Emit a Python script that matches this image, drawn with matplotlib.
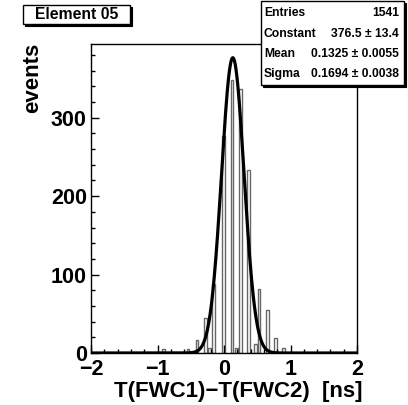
import numpy as np
import matplotlib
matplotlib.use("Agg")
import matplotlib.pyplot as plt
from matplotlib.patches import Rectangle
from matplotlib.ticker import MultipleLocator

plt.rcParams['font.family'] = ['Liberation Sans', 'DejaVu Sans']
plt.rcParams['font.weight'] = 'bold'

# histogram contents (bin centre in ns, events)
t_diff = [-0.91, -0.54, -0.405, -0.28, -0.22, -0.155, -0.005, 0.12,
          0.185, 0.245, 0.37, 0.475, 0.525, 0.65, 0.77, 0.89]
counts = [5, 5, 17, 45, 6, 88, 277, 348, 6, 336, 233, 12, 82, 55, 19, 6]

# gaussian fit
gaus_const = 376.5
gaus_mean = 0.1325
gaus_sigma = 0.1694

stat_names = ["Entries", "Constant", "Mean", "Sigma"]
stat_values = ["1541", "376.5 \u00b1 13.4", "0.1325 \u00b1 0.0055", "0.1694 \u00b1 0.0038"]

W, H = 408, 405


def fx(x):
    return x / W


def fy(y):
    return 1 - y / H


fig = plt.figure(figsize=(W / 100, H / 100), dpi=100)
ax = fig.add_axes([fx(91), fy(353), fx(357) - fx(91), fy(44) - fy(353)])

ax.bar(t_diff, counts, width=0.042, facecolor='white', edgecolor='#666666', linewidth=1.0)
xs = np.linspace(-2, 2, 800)
ax.plot(xs, gaus_const * np.exp(-0.5 * ((xs - gaus_mean) / gaus_sigma) ** 2),
        color='black', lw=2.3)

ax.set_xlim(-2, 2)
ax.set_ylim(0, 394)
ax.xaxis.set_major_locator(MultipleLocator(1))
ax.xaxis.set_minor_locator(MultipleLocator(0.2))
ax.yaxis.set_major_locator(MultipleLocator(100))
ax.yaxis.set_minor_locator(MultipleLocator(20))
ax.tick_params(which='both', direction='in', top=False, right=False, width=1)
ax.tick_params(which='major', length=6, labelsize=15.5)
ax.tick_params(which='minor', length=3)
ax.tick_params(axis='x', pad=4)
ax.tick_params(axis='y', pad=3)
for s in ax.spines.values():
    s.set_linewidth(1)

fig.text(fx(33), fy(43), "events", rotation=90, ha='center', va='top', fontsize=16)
fig.text(fx(362), fy(397), "T(FWC1)\u2212T(FWC2)  [ns]", ha='right', va='baseline', fontsize=16)


def shadow_box(x0, y0, x1, y1):
    fig.patches.append(Rectangle((fx(x0 + 2), fy(y1 + 2)), fx(x1 - x0), fy(y0) - fy(y1),
                                 transform=fig.transFigure, facecolor='black',
                                 edgecolor='black', lw=0.8, zorder=5))
    fig.patches.append(Rectangle((fx(x0), fy(y1)), fx(x1 - x0), fy(y0) - fy(y1),
                                 transform=fig.transFigure, facecolor='white',
                                 edgecolor='black', lw=1, zorder=6))


# title box
shadow_box(23, 5, 130, 23.5)
fig.text(fx(76.5), fy(14.5), "Element 05", ha='center', va='center', fontsize=11.3, zorder=7)

# stats box
shadow_box(261, 1, 404, 85)
row_y = [13.5, 34, 54, 74]
for name, val, y in zip(stat_names, stat_values, row_y):
    fig.text(fx(264), fy(y), name, ha='left', va='center', fontsize=8.7, zorder=7)
    fig.text(fx(399), fy(y), val, ha='right', va='center', fontsize=8.7, zorder=7)

fig.savefig("out.png", dpi=100)
